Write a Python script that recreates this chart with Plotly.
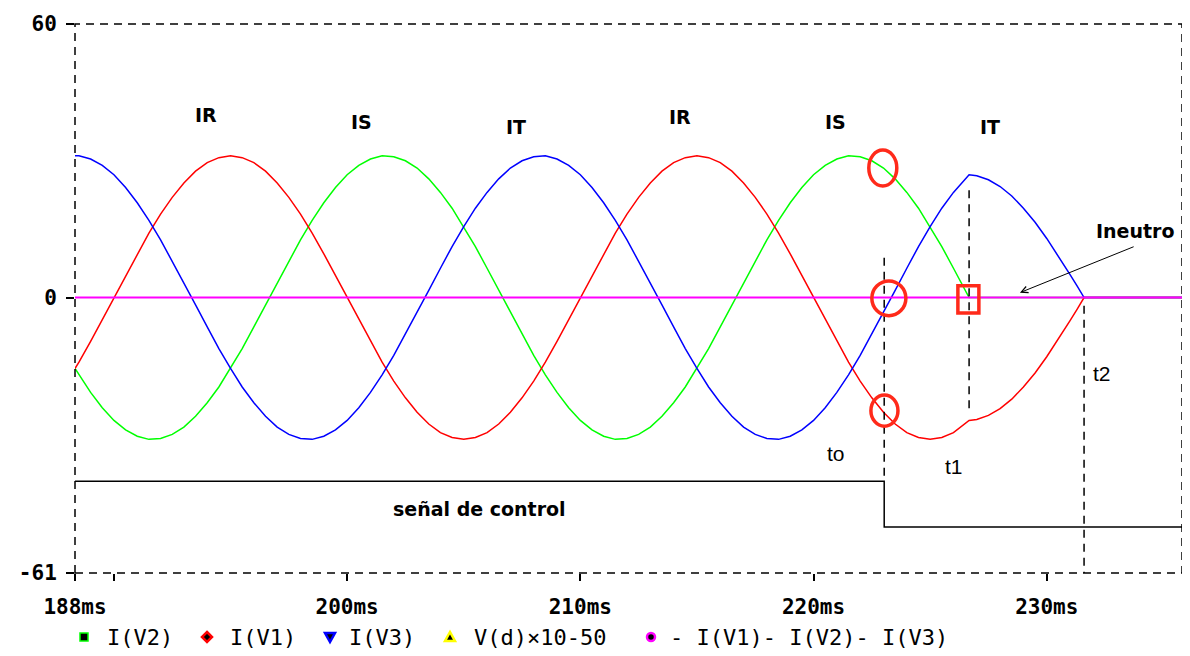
import plotly.graph_objects as go

# time base (ms) and phase currents
t_ms = [188.33,
        188.5, 189, 189.5, 190, 190.5, 191, 191.5, 192, 192.5, 193,
        193.5, 194, 194.5, 195, 195.5, 196, 196.5, 197, 197.5, 198,
        198.5, 199, 199.5, 200, 200.5, 201, 201.5, 202, 202.5, 203,
        203.5, 204, 204.5, 205, 205.5, 206, 206.5, 207, 207.5, 208,
        208.5, 209, 209.5, 210, 210.5, 211, 211.5, 212, 212.5, 213,
        213.5, 214, 214.5, 215, 215.5, 216, 216.5, 217, 217.5, 218,
        218.5, 219, 219.5, 220, 220.5, 221, 221.5, 222, 222.5, 223,
        223.5, 224, 224.5, 225, 225.5, 226, 226.5,
        226.67, 227, 227.5, 228, 228.5, 229, 229.5, 230, 230.5, 231, 231.3, 231.6, 235.8]

# I(V1) -> IR (red)
i_v1 = [-15.7,
        -14.3, -9.7, -4.9, 0.0, 4.9, 9.7, 14.3, 18.5, 22.2, 25.4,
        28.0, 29.9, 31.0, 31.4, 31.0, 29.9, 28.0, 25.4, 22.2, 18.5,
        14.3, 9.7, 4.9, 0.0, -4.9, -9.7, -14.3, -18.5, -22.2, -25.4,
        -28.0, -29.9, -31.0, -31.4, -31.0, -29.9, -28.0, -25.4, -22.2, -18.5,
        -14.3, -9.7, -4.9, 0.0, 4.9, 9.7, 14.3, 18.5, 22.2, 25.4,
        28.0, 29.9, 31.0, 31.4, 31.0, 29.9, 28.0, 25.4, 22.2, 18.5,
        14.3, 9.7, 4.9, 0.0, -4.9, -9.7, -14.3, -18.5, -22.2, -25.4,
        -28.0, -29.9, -31.0, -31.4, -31.0, -29.9, -28.0,
        -27.2, -27.0, -26.1, -24.6, -22.5, -19.8, -16.7, -13.1, -9.2, -5.1, -2.6, 0.0, 0.0]

# I(V2) -> IS (green)
i_v2 = [-15.7,
        -17.1, -21.0, -24.4, -27.2, -29.3, -30.7, -31.4, -31.2, -30.3, -28.7,
        -26.3, -23.3, -19.8, -15.7, -11.3, -6.5, -1.6, 3.3, 8.1, 12.8,
        17.1, 21.0, 24.4, 27.2, 29.3, 30.7, 31.4, 31.2, 30.3, 28.7,
        26.3, 23.3, 19.8, 15.7, 11.3, 6.5, 1.6, -3.3, -8.1, -12.8,
        -17.1, -21.0, -24.4, -27.2, -29.3, -30.7, -31.4, -31.2, -30.3, -28.7,
        -26.3, -23.3, -19.8, -15.7, -11.3, -6.5, -1.6, 3.3, 8.1, 12.8,
        17.1, 21.0, 24.4, 27.2, 29.3, 30.7, 31.4, 31.2, 30.3, 28.7,
        26.3, 23.3, 19.8, 15.7, 11.3, 6.5, 1.6,
        0.0, 0.0, 0.0, 0.0, 0.0, 0.0, 0.0, 0.0, 0.0, 0.0, 0.0, 0.0, 0.0]

# I(V3) -> IT (blue)
i_v3 = [31.4,
        31.4, 30.7, 29.3, 27.2, 24.4, 21.0, 17.1, 12.8, 8.1, 3.3,
        -1.6, -6.5, -11.3, -15.7, -19.8, -23.3, -26.3, -28.7, -30.3, -31.2,
        -31.4, -30.7, -29.3, -27.2, -24.4, -21.0, -17.1, -12.8, -8.1, -3.3,
        1.6, 6.5, 11.3, 15.7, 19.8, 23.3, 26.3, 28.7, 30.3, 31.2,
        31.4, 30.7, 29.3, 27.2, 24.4, 21.0, 17.1, 12.8, 8.1, 3.3,
        -1.6, -6.5, -11.3, -15.7, -19.8, -23.3, -26.3, -28.7, -30.3, -31.2,
        -31.4, -30.7, -29.3, -27.2, -24.4, -21.0, -17.1, -12.8, -8.1, -3.3,
        1.6, 6.5, 11.3, 15.7, 19.8, 23.3, 26.3,
        27.2, 27.0, 26.1, 24.6, 22.5, 19.8, 16.7, 13.1, 9.2, 5.1, 2.6, 0.0, 0.0]

# V(d)*10-50 (control signal) and neutral current
ctrl_t = [188.33, 223.03, 223.03, 235.8]
ctrl_v = [-40.7, -40.7, -50.8, -50.8]
neut_t = [188.33, 235.8]
neut_v = [0.0, 0.0]

# event times t0, t1, t2
t_events = [223.03, 226.67, 231.6]

x_ticks = [188.33, 190, 200, 210, 220, 230]
x_labels = ['188ms', '', '200ms', '210ms', '220ms', '230ms']
y_ticks = [-61, 0, 60.6]
y_labels = ['-61', '0', '60']

legend_names = ['I(V2)', 'I(V1)', 'I(V3)', 'V(d)×10-50', '- I(V1)- I(V2)- I(V3)']
legend_colors = ['#00ff00', '#ff0000', '#0000ff', '#ffff00', '#ff00ff']

MONO = 'DejaVu Sans Mono'
SANS = 'DejaVu Sans'


def px(x):
    # screen pixel -> paper, plot area on screen is 75..1182 x 24..573
    return (x - 75) / 1107


def py(y):
    return (573 - y) / 549


fig = go.Figure()
fig.add_trace(go.Scatter(x=t_ms, y=i_v2, mode='lines', line=dict(color='#00ff00', width=1.5), name='I(V2)'))
fig.add_trace(go.Scatter(x=t_ms, y=i_v1, mode='lines', line=dict(color='#ff0000', width=1.5), name='I(V1)'))
fig.add_trace(go.Scatter(x=t_ms, y=i_v3, mode='lines', line=dict(color='#0000ff', width=1.5), name='I(V3)'))
fig.add_trace(go.Scatter(x=ctrl_t, y=ctrl_v, mode='lines', line=dict(color='black', width=1.5), name='V(d)*10-50'))
fig.add_trace(go.Scatter(x=neut_t, y=neut_v, mode='lines', line=dict(color='#ff00ff', width=2), name='neutro'))

dash = '8px,6px'
shapes = [dict(type='rect', xref='paper', yref='paper', x0=0, x1=1, y0=0, y1=1,
               line=dict(color='black', width=1.5, dash=dash))]
# dashed markers for t0, t1, t2
spans = [(8.8, -40.4), (23.8, -25.3), (-1.8, -61)]
for te, (ya, yb) in zip(t_events, spans):
    shapes.append(dict(type='line', xref='x', yref='y', x0=te, x1=te, y0=ya, y1=yb,
                       line=dict(color='black', width=1.5, dash=dash)))

# hand-drawn red marks
mark = dict(color='#ff2a1a', width=3.5)
shapes.append(dict(type='circle', xref='x', yref='y', x0=222.37, x1=223.57, y0=24.7, y1=32.7, line=mark))
shapes.append(dict(type='circle', xref='x', yref='y', x0=222.50, x1=223.96, y0=-4.0, y1=3.7, line=mark))
shapes.append(dict(type='circle', xref='x', yref='y', x0=222.46, x1=223.62, y0=-28.5, y1=-21.6, line=mark))
shapes.append(dict(type='rect', xref='x', yref='y', x0=226.19, x1=227.09, y0=-3.4, y1=2.6, line=mark))

# legend symbols
icon_x = [84, 207, 330, 450, 651]
icon_paths = [None, 'M0,5 L5,0 L0,-5 L-5,0 Z', 'M-5,4 L5,4 L0,-5 Z', 'M-5,-4 L5,-4 L0,5 Z', 'circle']
for xi, col, pth in zip(icon_x, legend_colors, icon_paths):
    base = dict(xref='paper', yref='paper', xsizemode='pixel', ysizemode='pixel',
                xanchor=px(xi), yanchor=py(637))
    if pth is None:
        base.update(type='rect', x0=-4, x1=4, y0=-4, y1=4, fillcolor='black', line=dict(color=col, width=1.5))
    elif pth == 'circle':
        base.update(type='circle', x0=-4, x1=4, y0=-4, y1=4, fillcolor='black', line=dict(color=col, width=2.5))
    else:
        base.update(type='path', path=pth, fillcolor='black', line=dict(color=col, width=2.5))
    shapes.append(base)

annotations = []
legend_x = [105, 228, 347, 472, 668]
for name, xl in zip(legend_names, legend_x):
    annotations.append(dict(xref='paper', yref='paper', x=px(xl), y=py(637), text=name, showarrow=False,
                            xanchor='left', yanchor='middle', font=dict(family=MONO, size=22, color='black')))

phase_labels = [('IR', 193.96, 40.4), ('IS', 200.62, 38.9), ('IT', 207.22, 37.8),
                ('IR', 214.26, 40.0), ('IS', 220.96, 38.9), ('IT', 227.57, 37.8)]
for txt, xa, ya in phase_labels:
    annotations.append(dict(x=xa, y=ya, text=txt, showarrow=False,
                            font=dict(family=SANS, size=19, color='black', weight='bold')))

annotations.append(dict(x=233.79, y=14.8, text='Ineutro', showarrow=False,
                        font=dict(family=SANS, size=19, color='black', weight='bold')))
annotations.append(dict(x=205.69, y=-46.8, text='señal de control', showarrow=False,
                        font=dict(family=SANS, size=19, color='black', weight='bold')))
annotations.append(dict(x=228.85, y=1.1, ax=233.79, ay=11.4, axref='x', ayref='y', text='',
                        showarrow=True, arrowhead=5, arrowsize=1.3, arrowwidth=1, arrowcolor='black'))
for txt, xa, ya in [('to', 220.96, -34.6), ('t1', 226.02, -37.5), ('t2', 232.37, -16.9)]:
    annotations.append(dict(x=xa, y=ya, text=txt, showarrow=False,
                            font=dict(family='Liberation Sans', size=21, color='black')))

# the page adds an 8px body margin, so the figure is 8px smaller and shifted
fig.update_layout(
    width=1182, height=648,
    margin=dict(l=67, r=8, t=16, b=83),
    paper_bgcolor='white', plot_bgcolor='white',
    showlegend=False,
    shapes=shapes,
    annotations=annotations,
    xaxis=dict(range=[188.33, 235.8], showgrid=False, zeroline=False, showline=False, automargin=False,
               tickvals=x_ticks, ticktext=x_labels, ticks='outside', ticklen=7,
               tickcolor='black', tickwidth=1.5, ticklabelstandoff=8,
               tickfont=dict(family=MONO, size=21, color='black', weight='bold')),
    yaxis=dict(range=[-61, 60.6], showgrid=False, zeroline=False, showline=False, automargin=False,
               tickvals=y_ticks, ticktext=y_labels, ticks='outside', ticklen=8,
               tickcolor='black', tickwidth=1.5, ticklabelstandoff=5,
               tickfont=dict(family=MONO, size=21, color='black', weight='bold')),
)

fig.write_html('out.html')
